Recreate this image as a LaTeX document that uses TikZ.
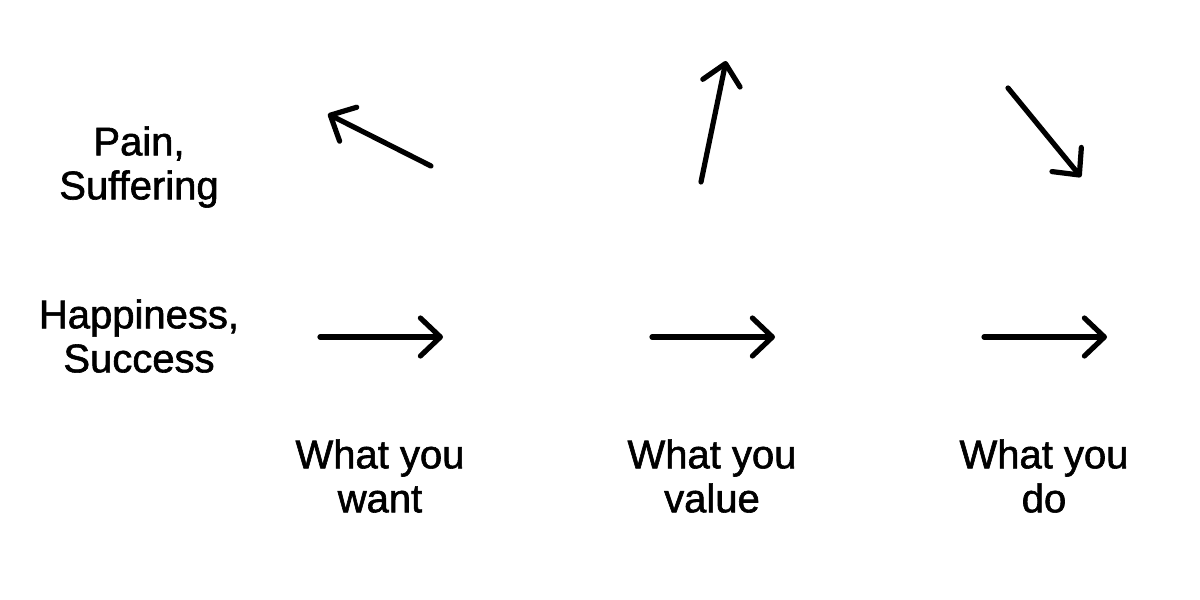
\documentclass[tikz,border=0pt]{standalone}
\usepackage{fontspec}
\setmainfont{Liberation Sans}
\newfontfamily\medfont{Liberation Sans}[FakeBold=1.5]
\usetikzlibrary{arrows.meta}
\begin{document}
\begin{tikzpicture}[x=1pt,y=-1pt,
  lbl/.style={align=center,font=\medfont\fontsize{40}{44}\selectfont,inner sep=0pt},
  arr/.style={line width=5.2pt,line cap=round,-{Straight Barb[length=20pt,width=38pt,round]}}]
\useasboundingbox (0,0) rectangle (1200,600);
\node[lbl] (pain) at (139,167) {Pain,\\Suffering};
\node[lbl] (happy) at (139,336) {Happiness,\\Success};
\node[lbl] (want) at (380,476) {What you\\want};
\node[lbl] (value) at (712,476) {What you\\value};
\node[lbl] (do) at (1044,476) {What you\\do};
\coordinate (h1a) at (320,337); \coordinate (h1b) at (443,337);
\coordinate (h2a) at (652,337); \coordinate (h2b) at (775,337);
\coordinate (h3a) at (984,337); \coordinate (h3b) at (1107,337);
\coordinate (d1a) at (431,166); \coordinate (d1b) at (328,114);
\coordinate (d2a) at (701,182); \coordinate (d2b) at (726,61);
\coordinate (d3a) at (1008,88); \coordinate (d3b) at (1081,177);
\draw[arr] (h1a) -- (h1b);
\draw[arr] (h2a) -- (h2b);
\draw[arr] (h3a) -- (h3b);
\draw[arr] (d1a) -- (d1b);
\draw[arr] (d2a) -- (d2b);
\draw[arr] (d3a) -- (d3b);
\end{tikzpicture}
\end{document}
